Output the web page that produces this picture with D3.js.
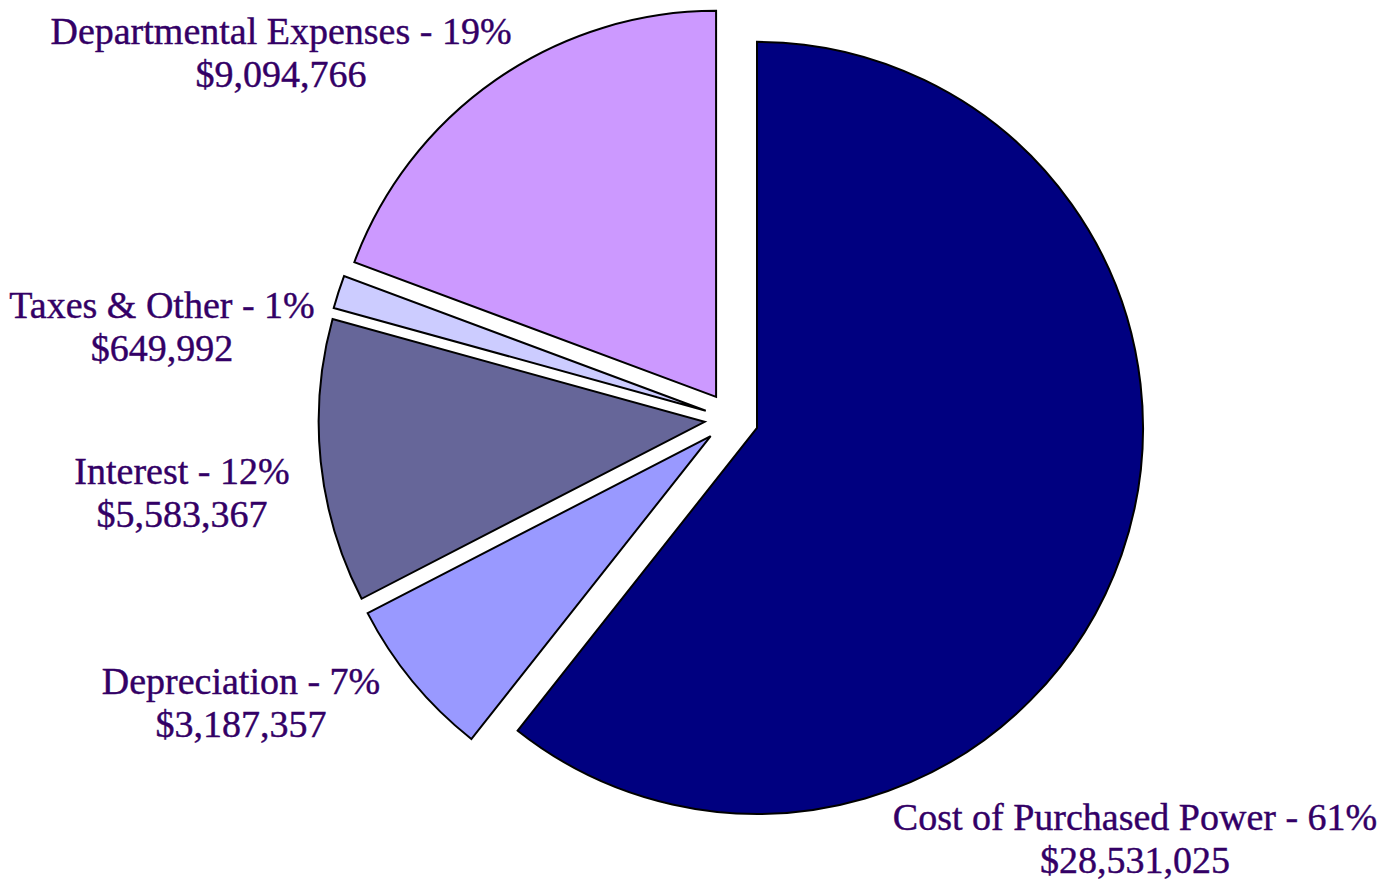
<!DOCTYPE html>
<html>
<head>
<meta charset="utf-8">
<script src="https://cdn.jsdelivr.net/npm/d3@7"></script>
<style>
  body { margin: 0; background: #fff; }
  text { font-family: "Liberation Serif", "Times New Roman", serif; fill: #330066; }
</style>
</head>
<body>
<svg width="1391" height="880"></svg>
<script>
// slices, clockwise from 12 o'clock
var categories = ["Cost of Purchased Power", "Depreciation", "Interest", "Taxes & Other", "Departmental Expenses"];
var values = [28531025, 3187357, 5583367, 649992, 9094766];
var colors = ["#000080", "#9999FF", "#666699", "#CCCCFF", "#CC99FF"];

// label centres (x, baseline of first line)
var labelPos = [[1135, 830], [241, 694], [182, 484], [162, 318], [281, 44]];

var svg = d3.select("svg"),
  cx = 731.5, cy = 419,
  radius = 386,
  explode = 27,
  total = d3.sum(values);

var pie = d3.pie().sort(null).value(function(d) { return d; });
var arc = d3.arc().innerRadius(0).outerRadius(radius);
var arcs = pie(values);

var g = svg.append("g").attr("transform", "translate(" + cx + "," + cy + ")");

g.selectAll("path")
  .data(arcs)
  .enter().append("path")
  .attr("d", arc)
  .attr("fill", function(d, i) { return colors[i]; })
  .attr("stroke", "#000")
  .attr("stroke-width", 2)
  .attr("stroke-linejoin", "miter")
  .attr("transform", function(d) {
    var a = (d.startAngle + d.endAngle) / 2;
    return "translate(" + (explode * Math.sin(a)) + "," + (-explode * Math.cos(a)) + ")";
  });

var fmt = d3.format("$,");
var labels = svg.selectAll("text.lbl")
  .data(arcs)
  .enter().append("text")
  .attr("class", "lbl")
  .attr("text-anchor", "middle")
  .style("font-size", "38px")
  .style("stroke", "#330066")
  .style("stroke-width", 0.4);

labels.append("tspan")
  .attr("x", function(d, i) { return labelPos[i][0]; })
  .attr("y", function(d, i) { return labelPos[i][1]; })
  .text(function(d, i) { return categories[i] + " - " + Math.round(d.value / total * 100) + "%"; });

labels.append("tspan")
  .attr("x", function(d, i) { return labelPos[i][0]; })
  .attr("y", function(d, i) { return labelPos[i][1] + 43; })
  .text(function(d) { return fmt(d.value); });
</script>
</body>
</html>
